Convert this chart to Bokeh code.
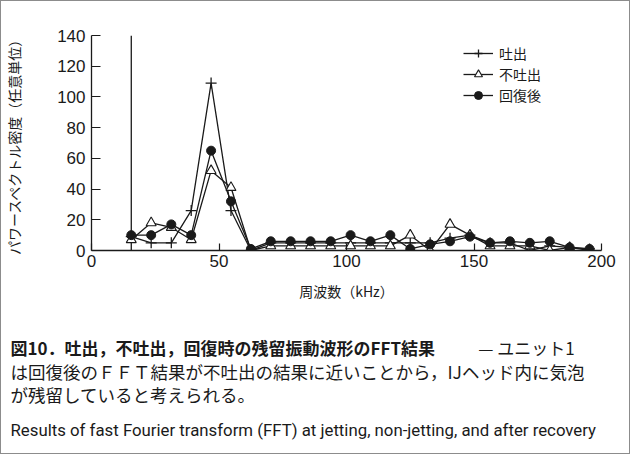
from bokeh.plotting import figure
from bokeh.layouts import column
from bokeh.models import Range1d, Legend, LegendItem, FixedTicker
from bokeh.core.properties import value
from bokeh.embed import file_html
from bokeh.resources import INLINE

# ---- data ----
freq_khz = [15.6, 23.4, 31.3, 39.1, 46.9, 54.7, 62.5, 70.3, 78.1, 85.9, 93.8, 101.6,
            109.4, 117.2, 125.0, 132.8, 140.6, 148.4, 156.3, 164.1, 171.9, 179.7, 187.5, 195.3]
jetting = [9, 5, 5, 26, 109, 26, 0, 5, 5, 5, 5, 5,
           5, 5, 5, 5, 8, 10, 5, 5, 0, 3, 2, 1]
non_jetting = [7, 18, 15, 7, 52, 41, 0, 3, 3, 3, 3, 3,
               3, 3, 10, 0, 17, 10, 3, 3, 3, 0, 2, 0]
after_recovery = [10, 10, 17, 10, 65, 32, 1, 6, 6, 6, 6, 10,
                  6, 10, 1, 4, 6, 9, 5, 6, 5, 6, 2, 1]
series_names = ["吐出", "不吐出", "回復後"]
spike_x = [15.6]
spike_y0 = [0]
spike_y1 = [140]
x_ticks = [0, 50, 100, 150, 200]
y_ticks = [0, 20, 40, 60, 80, 100, 120, 140]

x_label = "周波数（kHz）"
y_label = "パワースペクトル密度（任意単位）"
cap_bold = "図10．吐出，不吐出，回復時の残留振動波形のFFT結果"
cap_rest = "— ユニット1"
cap_line2 = "は回復後のＦＦＴ結果が不吐出の結果に近いことから，IJヘッド内に気泡"
cap_line3 = "が残留していると考えられる。"
cap_en = "Results of fast Fourier transform (FFT) at jetting, non-jetting, and after recovery"

JP = "Noto Sans CJK JP"
INK = "#1a1a1a"
W = 628
H_PLOT = 312
H_CAP = 140

p = figure(width=W, height=H_PLOT, output_backend="svg", toolbar_location=None,
           x_range=Range1d(0, 200), y_range=Range1d(0, 140),
           min_border_left=90, min_border_right=28, min_border_top=34, min_border_bottom=63)
p.grid.visible = False
p.outline_line_color = None

for ax in (p.xaxis[0], p.yaxis[0]):
    ax.axis_line_color = INK
    ax.axis_line_width = 1.3
    ax.major_tick_line_color = INK
    ax.major_tick_line_width = 1.2
    ax.major_tick_out = 0
    ax.minor_tick_line_color = None
    ax.major_label_text_font = "Liberation Sans"
    ax.major_label_text_font_size = "17px"
    ax.major_label_text_color = INK
    ax.axis_label_text_font = JP
    ax.axis_label_text_font_size = "14px"
    ax.axis_label_text_font_style = "normal"
    ax.axis_label_text_color = INK

p.xaxis.ticker = FixedTicker(ticks=x_ticks)
p.yaxis.ticker = FixedTicker(ticks=y_ticks)
p.xaxis.major_tick_in = 7
p.yaxis.major_tick_in = 9
p.xaxis.major_label_standoff = 4
p.yaxis.major_label_standoff = 6
p.xaxis.axis_label = x_label
p.yaxis.axis_label = y_label
p.xaxis.axis_label_standoff = 11
p.yaxis.axis_label_standoff = 30

p.segment(x0=spike_x, y0=spike_y0, x1=spike_x, y1=spike_y1, line_color=INK, line_width=1.3)

lw = 1.3
l1 = p.line(freq_khz, jetting, line_color=INK, line_width=lw)
s1 = p.scatter(freq_khz, jetting, marker="cross", size=11, line_color=INK, line_width=1.3)
l2 = p.line(freq_khz, non_jetting, line_color=INK, line_width=lw)
s2 = p.scatter(freq_khz, non_jetting, marker="triangle", size=10, line_color=INK,
               fill_color="white", line_width=1.1)
l3 = p.line(freq_khz, after_recovery, line_color=INK, line_width=lw)
s3 = p.scatter(freq_khz, after_recovery, marker="circle", size=9, line_color=INK,
               fill_color=INK)

legend = Legend(items=[LegendItem(label=series_names[0], renderers=[l1, s1]),
                       LegendItem(label=series_names[1], renderers=[l2, s2]),
                       LegendItem(label=series_names[2], renderers=[l3, s3])],
                location=(372, 145))
legend.border_line_color = None
legend.background_fill_alpha = 0
legend.label_text_font = JP
legend.label_text_font_size = "14px"
legend.label_text_color = INK
legend.glyph_width = 30
legend.glyph_height = 20
legend.label_height = 20
legend.spacing = 1
legend.padding = 0
legend.margin = 0
legend.label_standoff = 6
p.add_layout(legend)

# ---- caption panel (coordinates are pixels inside the panel) ----
c = figure(width=W, height=H_CAP, output_backend="svg", toolbar_location=None,
           x_range=Range1d(0, W), y_range=Range1d(0, H_CAP),
           x_axis_location=None, y_axis_location=None,
           min_border=0, min_border_left=0, min_border_right=0,
           min_border_top=0, min_border_bottom=0)
c.frame_align = False
c.grid.visible = False
c.outline_line_color = None

c.text(x=[9], y=[106], text=[cap_bold], text_font=value(JP), text_font_size="17px",
       text_font_style="bold", text_baseline="middle", text_color=INK)
c.text(x=[525], y=[106], text=[cap_rest], text_font=value(JP), text_font_size="17px",
       text_baseline="middle", text_align="center", text_color=INK)
c.text(x=[9, 9], y=[82, 59], text=[cap_line2, cap_line3], text_font=value(JP),
       text_font_size="17.5px", text_baseline="middle", text_color=INK)
c.text(x=[9], y=[24], text=[cap_en], text_font=value("Roboto"), text_font_size="16.8px",
       text_baseline="middle", text_color=INK)

layout = column(p, c, spacing=0)
layout.styles = {"border": "1px solid #8c8c8c"}

open("out.html", "w").write(file_html(layout, INLINE))
